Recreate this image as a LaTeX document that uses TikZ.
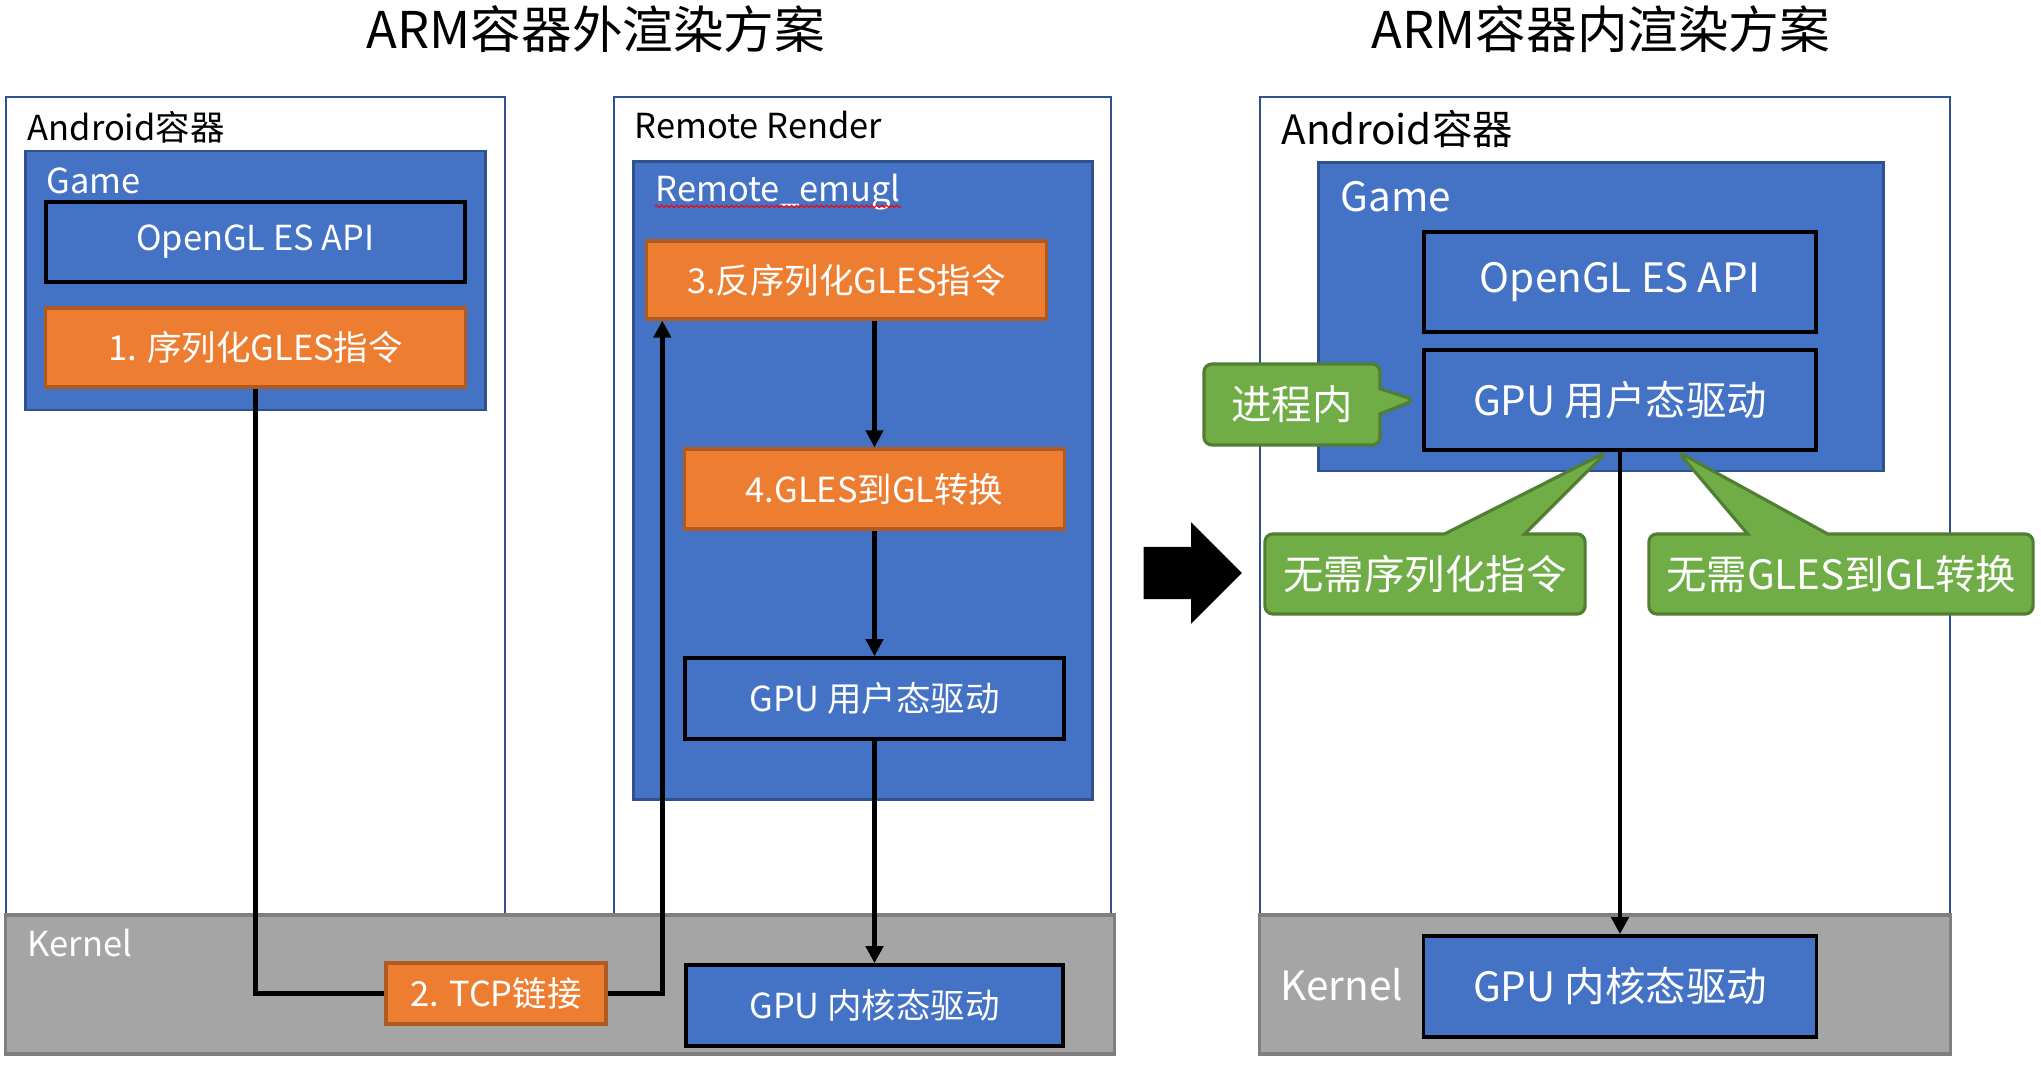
\documentclass[tikz,border=0pt]{standalone}
\usepackage{fontspec}
\setmainfont{Noto Sans CJK SC}
\usetikzlibrary{arrows.meta,shapes.callouts,shapes.arrows,decorations.pathmorphing}

\begin{document}
\begin{tikzpicture}[x=0.01cm, y=-0.01cm]
    % Define Office colour palette
    \definecolor{armblue}{RGB}{68,114,196}
    \definecolor{armblueline}{RGB}{47,82,143}
    \definecolor{armorange}{RGB}{237,125,49}
    \definecolor{armorangeline}{RGB}{174,90,33}
    \definecolor{armgreen}{RGB}{112,173,71}
    \definecolor{armgreenline}{RGB}{80,126,50}
    \definecolor{armgrey}{RGB}{165,165,165}
    \definecolor{armgreyline}{RGB}{127,127,127}

    % Define styles
    \tikzset{
        outside/.style={font=\fontsize{9.8pt}{11pt}\selectfont},
        inside/.style={font=\fontsize{11.5pt}{13pt}\selectfont},
        container/.style={
            draw=armblueline,
            fill=white,
            line width=0.7pt,
            inner sep=0pt
        },
        process/.style={
            draw=armblueline,
            fill=armblue,
            line width=0.8pt,
            inner sep=0pt
        },
        kernel/.style={
            draw=armgreyline,
            fill=armgrey,
            line width=0.9pt,
            inner sep=0pt
        },
        api/.style={
            draw=black,
            fill=armblue,
            line width=1pt,
            text=white,
            inner sep=0pt
        },
        stepbox/.style={
            draw=armorangeline,
            fill=armorange,
            line width=0.9pt,
            text=white,
            inner sep=0pt
        },
        boxtitle/.style={
            anchor=west,
            inner sep=0pt
        },
        bubble/.style={
            rectangle callout,
            draw=armgreenline,
            fill=armgreen,
            line width=0.9pt,
            rounded corners=0.08cm,
            text=white,
            inner sep=0pt,
            minimum height=0.8cm,
            callout pointer width=0.8cm
        },
        flow/.style={
            -{Triangle[length=0.17cm, width=0.17cm]},
            line width=1.4pt
        }
    }

    \useasboundingbox (0,0) rectangle (2041,1067);

    % Titles
    \node[font=\fontsize{14.4pt}{16pt}\selectfont] (titleL) at (596,29) {ARM容器外渲染方案};
    \node[font=\fontsize{14.4pt}{16pt}\selectfont] (titleR) at (1601,29) {ARM容器内渲染方案};

    % Left scheme: containers
    \node[container, minimum width=4.99cm, minimum height=8.18cm] (androidL) at (255.5,506) {};
    \node[container, minimum width=4.97cm, minimum height=8.18cm] (remote) at (862.5,506) {};
    \node[kernel, minimum width=11.08cm, minimum height=1.39cm] (kernelL) at (560,984.5) {};
    \node[process, minimum width=4.59cm, minimum height=2.59cm] (gameL) at (255.5,280.5) {};
    \node[process, minimum width=4.58cm, minimum height=6.37cm] (emugl) at (863,480.5) {};

    \node[boxtitle, outside] (androidLtxt) at (27,127) {Android容器};
    \node[boxtitle, outside, text=white] (gameLtxt) at (46,181) {Game};
    \node[boxtitle, outside] (remotetxt) at (634,125) {Remote Render};
    \node[boxtitle, outside, text=white] (emugltxt) at (655,192) {Remote\_emugl};
    \node[boxtitle, outside, text=white] (kernelLtxt) at (27,943) {Kernel};
    \draw[red, line width=0.3pt, decorate, decoration={snake, amplitude=0.012cm, segment length=0.05cm}]
        ([yshift=-0.05cm]emugltxt.base west) -- ([yshift=-0.05cm]emugltxt.base east);

    % Left scheme: steps
    \node[api, outside, minimum width=4.19cm, minimum height=0.8cm] (glL) at (255.5,242) {OpenGL ES API};
    \node[stepbox, outside, minimum width=4.19cm, minimum height=0.79cm] (serial) at (255.5,347.5) {1. 序列化GLES指令};
    \node[stepbox, outside, minimum width=2.2cm, minimum height=0.61cm] (tcp) at (496,993.5) {2. TCP链接};
    \node[stepbox, outside, minimum width=3.99cm, minimum height=0.78cm] (deserial) at (846.5,280) {3.反序列化GLES指令};
    \node[stepbox, outside, minimum width=3.79cm, minimum height=0.8cm] (convert) at (874.5,489) {4.GLES到GL转换};
    \node[api, outside, minimum width=3.79cm, minimum height=0.81cm] (userL) at (874.5,698.5) {GPU 用户态驱动};
    \node[api, outside, minimum width=3.77cm, minimum height=0.81cm] (kmodL) at (874.5,1005.5) {GPU 内核态驱动};

    % Left scheme: flow
    \draw[line width=1.4pt] (serial.south) |- (tcp.west);
    \draw[flow] (tcp.east) -| ([xshift=0.17cm]deserial.south west);
    \draw[flow] (deserial.south -| convert.north) -- (convert.north);
    \draw[flow] (convert.south) -- (userL.north);
    \draw[flow] (userL.south) -- (kmodL.north);

    % Change arrow
    \node[single arrow, fill=black, inner sep=0pt, text height=0.255cm, text depth=0.255cm,
          minimum height=0.98cm, minimum width=1cm, single arrow head extend=0.245cm,
          anchor=tail] (shift) at (1143,573) {};

    % Right scheme: containers
    \node[container, minimum width=6.9cm, minimum height=8.18cm] (androidR) at (1605,506) {};
    \node[kernel, minimum width=6.9cm, minimum height=1.39cm] (kernelR) at (1605,984.5) {};
    \node[process, minimum width=5.64cm, minimum height=3.08cm] (gameR) at (1601,317) {};

    \node[boxtitle, inside] (androidRtxt) at (1281,129) {Android容器};
    \node[boxtitle, inside, text=white] (gameRtxt) at (1340,197) {Game};
    \node[boxtitle, inside, text=white] (kernelRtxt) at (1280,985) {Kernel};

    % Right scheme: boxes
    \node[api, inside, minimum width=3.92cm, minimum height=1cm] (glR) at (1620,282) {OpenGL ES API};
    \node[api, inside, minimum width=3.92cm, minimum height=1cm] (userR) at (1620,400) {GPU 用户态驱动};
    \node[api, inside, minimum width=3.93cm, minimum height=1.01cm] (kmodR) at (1620,986.5) {GPU 内核态驱动};

    \draw[flow] (userR.south) -- (kmodR.north);

    % Right scheme: notes
    \node[bubble, inside, minimum width=1.76cm, minimum height=0.81cm, callout pointer width=0.25cm,
          callout absolute pointer={([xshift=-0.07cm]userR.west)}] (inproc) at (1292,404.5) {进程内};
    \node[bubble, inside, minimum width=3.2cm,
          callout absolute pointer={([xshift=-0.13cm]userR.south)}] (noserial) at (1425,574) {无需序列化指令};
    \node[bubble, inside, minimum width=3.84cm,
          callout absolute pointer={([xshift=0.58cm]userR.south)}] (noconvert) at (1841,574) {无需GLES到GL转换};

\end{tikzpicture}
\end{document}
